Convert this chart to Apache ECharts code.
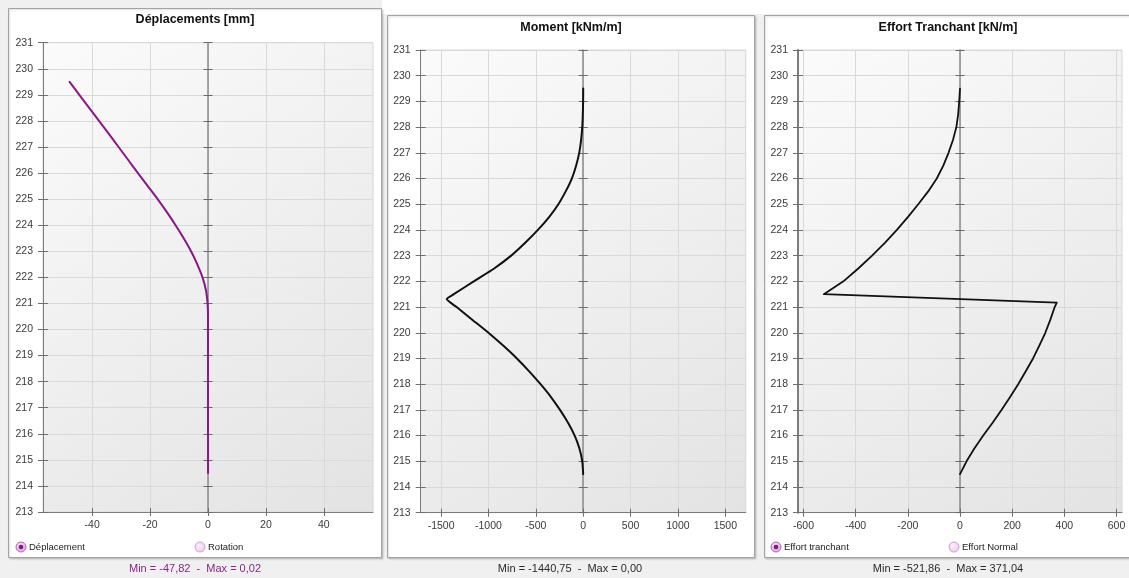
<!DOCTYPE html>
<html>
<head>
<meta charset="utf-8">
<script src="https://cdn.jsdelivr.net/npm/echarts@6/dist/echarts.min.js"></script>
<style>
  html, body { margin: 0; padding: 0; background: #f0f0f0; }
  #chart { width: 1129px; height: 578px; }
</style>
</head>
<body>
<div id="chart"></div>
<script>
// Elevation ticks shared by the three profiles
const depthTicks = [213, 214, 215, 216, 217, 218, 219, 220, 221, 222, 223, 224, 225, 226, 227, 228, 229, 230, 231];

// Horizontal tick labels of each profile
const dispTicks = [-40, -20, 0, 20, 40];
const momentTicks = [-1500, -1000, -500, 0, 500, 1000, 1500];
const shearTicks = [-600, -400, -200, 0, 200, 400, 600];

// Displacement profile [mm]
const dispDepth = [229.5, 229, 228.5, 228, 227.5, 227, 226.5, 226, 225.5, 225, 224.5, 224, 223.5, 223, 222.5, 222, 221.5, 221, 220.5, 220, 219, 218, 217, 216, 215, 214.5];
const dispValue = [-47.82, -44.45, -41.05, -37.65, -34.25, -30.9, -27.55, -24.2, -20.8, -17.4, -14.2, -11.2, -8.4, -5.85, -3.7, -1.9, -0.7, -0.15, 0, 0, 0, 0, 0, 0.01, 0.02, 0.02];

// Bending moment profile [kNm/m]
const momentDepth = [229.5, 229, 228.5, 228, 227.5, 227, 226.5, 226, 225.5, 225, 224.5, 224, 223.5, 223, 222.5, 222, 221.5, 221.31, 221, 220.5, 220, 219.5, 219, 218.5, 218, 217.5, 217, 216.5, 216, 215.5, 215, 214.5];
const momentValue = [0, -1, -4, -10, -22, -42, -75, -120, -185, -262, -360, -478, -612, -760, -940, -1155, -1365, -1440.75, -1336, -1168, -1000, -845, -700, -570, -450, -340, -245, -160, -90, -40, -10, 0];

// Shear force profile [kN/m]
const shearDepth = [229.5, 229, 228.5, 228, 227.5, 227, 226.5, 226, 225.5, 225, 224.5, 224, 223.5, 223, 222.5, 222, 221.5, 221.17, 221, 220.5, 220, 219.5, 219, 218.5, 218, 217.5, 217, 216.5, 216, 215.5, 215, 214.5];
const shearValue = [0, -3, -7, -14, -27, -44, -64, -89, -122, -160, -200, -242, -288, -337, -390, -447, -521.86, 371.04, 363, 346, 327, 304, 280, 252, 223, 192, 159, 125, 89, 55, 25, 0];

const FONT = 'Liberation Sans, Arial, sans-serif';

const chart = echarts.init(document.getElementById('chart'), null, { renderer: 'canvas' });

const plotBg = () => new echarts.graphic.LinearGradient(0, 0, 1, 1, [
  { offset: 0, color: '#fbfbfb' },
  { offset: 1, color: '#e3e3e3' }
]);

const grids = [
  { left: 43, top: 42.7, width: 330, height: 469.3 },
  { left: 420.7, top: 50, width: 325, height: 462.7 },
  { left: 798, top: 50, width: 324, height: 462.7 }
].map(g => Object.assign({
  show: true, backgroundColor: plotBg(), borderColor: '#d6d6d6', borderWidth: 1,
  containLabel: false, outerBoundsMode: 'none'
}, g));

const xRanges = [57, 1715, 621];
const xTickSets = [dispTicks, momentTicks, shearTicks];
const plain = v => String(v);

const xAxes = [];
const yAxes = [];
grids.forEach((g, gi) => {
  const r = xRanges[gi];
  const ticks = xTickSets[gi];
  // bottom axis with labels and outer ticks
  xAxes.push({
    gridIndex: gi, type: 'value', position: 'bottom', min: -r, max: r,
    axisLine: { show: true, onZero: false, lineStyle: { color: '#7d7d7d', width: 1 } },
    axisTick: { show: true, customValues: ticks, length: 4, lineStyle: { color: '#6f6f6f' } },
    axisLabel: { customValues: ticks, formatter: plain, margin: 8, color: '#3a3a3a', fontSize: 10.5, fontFamily: FONT },
    splitLine: { show: true, lineStyle: { color: '#d9d9d9', width: 1 } }
  });
  // inner half of the crossing ticks
  xAxes.push({
    gridIndex: gi, type: 'value', position: 'bottom', min: -r, max: r,
    axisLine: { show: false, onZero: false },
    axisTick: { show: true, inside: true, customValues: ticks, length: 4, lineStyle: { color: '#6f6f6f' } },
    axisLabel: { show: false }, splitLine: { show: false }
  });
  // left elevation axis
  yAxes.push({
    gridIndex: gi, type: 'value', position: 'left', min: 213, max: 231, interval: 1,
    axisLine: { show: true, onZero: false, lineStyle: { color: '#7d7d7d', width: gi === 2 ? 2 : 1 } },
    axisTick: { show: true, length: 5, lineStyle: { color: '#6f6f6f' } },
    axisLabel: { formatter: plain, margin: 10, color: '#3a3a3a', fontSize: 10.5, fontFamily: FONT },
    splitLine: { show: true, lineStyle: { color: '#d9d9d9', width: 1 } }
  });
  yAxes.push({
    gridIndex: gi, type: 'value', position: 'left', min: 213, max: 231, interval: 1,
    axisLine: { show: false, onZero: false },
    axisTick: { show: true, inside: true, length: 5, lineStyle: { color: '#6f6f6f' } },
    axisLabel: { show: false }, splitLine: { show: false }
  });
  // vertical zero line with crossing ticks
  yAxes.push({
    gridIndex: gi, type: 'value', position: 'left', min: 213, max: 231, interval: 1,
    axisLine: { show: true, onZero: true, lineStyle: { color: '#8a8a8a', width: 1.5 } },
    axisTick: { show: true, length: 4.5, lineStyle: { color: '#6a6a6a' } },
    axisLabel: { show: false }, splitLine: { show: false }
  });
  yAxes.push({
    gridIndex: gi, type: 'value', position: 'left', min: 213, max: 231, interval: 1,
    axisLine: { show: false, onZero: true },
    axisTick: { show: true, inside: true, length: 4.5, lineStyle: { color: '#6a6a6a' } },
    axisLabel: { show: false }, splitLine: { show: false }
  });
});

const pairs = (xs, ys) => xs.map((v, i) => [v, ys[i]]);

const series = [
  { name: 'Déplacement', data: pairs(dispValue, dispDepth), color: '#8a168a', width: 2, smooth: 0.3 },
  { name: 'Moment', data: pairs(momentValue, momentDepth), color: '#111111', width: 2, smooth: 0.2 },
  { name: 'Effort tranchant', data: pairs(shearValue, shearDepth), color: '#111111', width: 1.8, smooth: false }
].map((s, gi) => ({
  type: 'line', name: s.name, data: s.data,
  xAxisIndex: gi * 2, yAxisIndex: gi * 4,
  showSymbol: false, symbol: 'none', smooth: s.smooth, z: 5,
  lineStyle: { color: s.color, width: s.width, join: 'round', cap: 'round' },
  itemStyle: { color: s.color }
}));

// Panel frames
const panels = [
  { x: 8.5, y: 8.5, w: 373, h: 549 },
  { x: 387.5, y: 15.5, w: 367, h: 542 },
  { x: 764.5, y: 15.5, w: 372, h: 542 }
];
const graphics = [
  { type: 'rect', z: -20, shape: { x: 382, y: 0, width: 747, height: 14 }, style: { fill: '#ffffff' }, silent: true }
];
panels.forEach(p => {
  graphics.push({
    type: 'rect', z: -10, silent: true,
    shape: { x: p.x, y: p.y, width: p.w, height: p.h },
    style: { fill: '#ffffff', stroke: '#a3a3a3', lineWidth: 1,
      shadowColor: 'rgba(0,0,0,0.18)', shadowBlur: 2, shadowOffsetX: 1, shadowOffsetY: 1 }
  });
});

// Radio-style legend entries
function radio(cx, cy, selected, label) {
  const out = [];
  out.push({
    type: 'circle', z: 10, silent: true, shape: { cx: cx, cy: cy, r: 5 },
    style: {
      fill: new echarts.graphic.RadialGradient(0.4, 0.35, 0.8, [
        { offset: 0, color: selected ? '#f7dcf7' : '#fbeefb' },
        { offset: 1, color: selected ? '#d89ad8' : '#eac4ea' }
      ]),
      stroke: selected ? '#b46ab4' : '#d49fd4', lineWidth: 1
    }
  });
  if (selected) {
    out.push({ type: 'circle', z: 11, silent: true, shape: { cx: cx, cy: cy, r: 2.3 }, style: { fill: '#7d1a7d' } });
  }
  out.push({
    type: 'text', z: 11, silent: true, x: cx + 8, y: cy,
    style: { text: label, fill: '#222222', font: '9.5px ' + FONT, align: 'left', verticalAlign: 'middle' }
  });
  return out;
}
graphics.push(...radio(21, 547, true, 'Déplacement'));
graphics.push(...radio(200, 547, false, 'Rotation'));
graphics.push(...radio(776, 547, true, 'Effort tranchant'));
graphics.push(...radio(954, 547, false, 'Effort Normal'));

// Extreme values under each panel
const fmt = v => v.toFixed(2).replace('.', ',');
const summaries = [
  { x: 195, values: dispValue, color: '#8a268a' },
  { x: 570, values: momentValue, color: '#2a2a2a' },
  { x: 948, values: shearValue, color: '#2a2a2a' }
];
summaries.forEach(s => {
  const mn = Math.min(...s.values), mx = Math.max(...s.values);
  graphics.push({
    type: 'text', z: 11, silent: true, x: s.x, y: 569,
    style: { text: 'Min = ' + fmt(mn) + '  -  Max = ' + fmt(mx), fill: s.color,
      font: '11px ' + FONT, align: 'center', verticalAlign: 'middle' }
  });
});

const titles = [
  { text: 'Déplacements [mm]', left: 195, top: 13 },
  { text: 'Moment [kNm/m]', left: 571, top: 21 },
  { text: 'Effort Tranchant [kN/m]', left: 948, top: 21 }
].map(t => ({
  text: t.text, left: t.left, top: t.top, textAlign: 'center', padding: 0,
  textStyle: { fontSize: 12.5, fontWeight: 'bold', color: '#111111', fontFamily: FONT }
}));

chart.setOption({
  animation: false,
  backgroundColor: '#f0f0f0',
  title: titles,
  grid: grids,
  xAxis: xAxes,
  yAxis: yAxes,
  series: series,
  graphic: graphics
});
</script>
</body>
</html>
